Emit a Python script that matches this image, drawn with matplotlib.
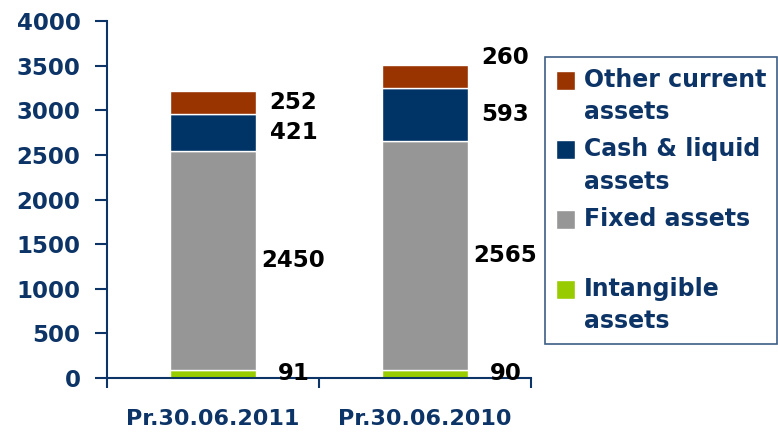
import matplotlib.pyplot as plt
from matplotlib.ticker import FixedLocator
from matplotlib.legend_handler import HandlerPatch, update_from_first_child
from matplotlib.container import BarContainer
from matplotlib.patches import Rectangle
import numpy as np

categories = ['Pr.30.06.2011', 'Pr.30.06.2010']
intangible = [91, 90]
fixed = [2450, 2565]
cash = [421, 593]
other = [252, 260]

series = [
    ('Intangible\nassets', intangible, '#99cc00'),
    ('Fixed assets\n ', fixed, '#969696'),
    ('Cash & liquid\nassets', cash, '#003366'),
    ('Other current\nassets', other, '#993300'),
]

navy = '#0d3466'
plt.rcParams['font.family'] = ['DejaVu Sans']
plt.rcParams['font.weight'] = 'bold'

fig = plt.figure(figsize=(7.78, 4.32), dpi=100)
ax = fig.add_axes([0.1375, 0.125, 0.545, 0.826])

x = np.arange(len(categories))
bottom = np.zeros(len(categories))
handles = []
for name, vals, col in series:
    vals = np.array(vals, dtype=float)
    b = ax.bar(x, vals, 0.41, bottom=bottom, color=col, edgecolor='white',
               linewidth=1, label=name)
    handles.append(b)
    for i in range(len(x)):
        dy = 0
        # top label of the second bar sits a bit higher in the original
        if name.startswith('Other') and i == 1:
            dy = 14
        ax.annotate(f'{int(vals[i])}', (x[i] + 0.38, bottom[i] + vals[i] / 2),
                    xytext=(0, dy), textcoords='offset points',
                    ha='center', va='center', fontsize=16.5, fontweight='bold',
                    color='black')
    bottom += vals

ax.set_xlim(-0.5, 1.5)
ax.set_ylim(0, 4000)
ax.set_yticks(np.arange(0, 4001, 500))
ax.set_xticks(x)
ax.set_xticklabels(categories)
ax.xaxis.set_minor_locator(FixedLocator([-0.5, 0.5, 1.5]))
ax.tick_params(axis='x', which='major', length=0, pad=22, labelsize=16,
               labelcolor=navy)
ax.tick_params(axis='x', which='minor', length=7, width=1.5, color=navy,
               direction='out')
ax.tick_params(axis='y', length=9, width=1.5, color=navy, direction='out',
               labelsize=16.5, labelcolor=navy, pad=10)
for lab in ax.get_xticklabels() + ax.get_yticklabels():
    lab.set_fontweight('bold')

for s in ['top', 'right']:
    ax.spines[s].set_visible(False)
for s in ['left', 'bottom']:
    ax.spines[s].set_color(navy)
    ax.spines[s].set_linewidth(1.5)
ax.spines['left'].set_bounds(0, 4000)


# square marker placed next to the first line of a two-line label
def top_square(legend, orig_handle, xdescent, ydescent, width, height, fontsize):
    sq = 0.8 * fontsize
    return Rectangle((-xdescent, -ydescent + height - sq + 0.32 * fontsize), sq, sq)


leg = fig.legend(handles[::-1], [h.get_label() for h in handles[::-1]],
                 loc='upper left', bbox_to_anchor=(545 / 778, 1 - 57 / 432),
                 frameon=True, fancybox=False, edgecolor=navy,
                 fontsize=17, handlelength=0.8, handleheight=2.2,
                 handletextpad=0.4, labelspacing=0.56, borderpad=0.45,
                 borderaxespad=0,
                 handler_map={BarContainer: HandlerPatch(
                     patch_func=top_square, update_func=update_from_first_child)})
leg.get_frame().set_linewidth(1.2)
for t in leg.get_texts():
    t.set_color(navy)
    t.set_fontweight('bold')
    t.set_linespacing(1.45)

fig.savefig('out.png', dpi=100)
